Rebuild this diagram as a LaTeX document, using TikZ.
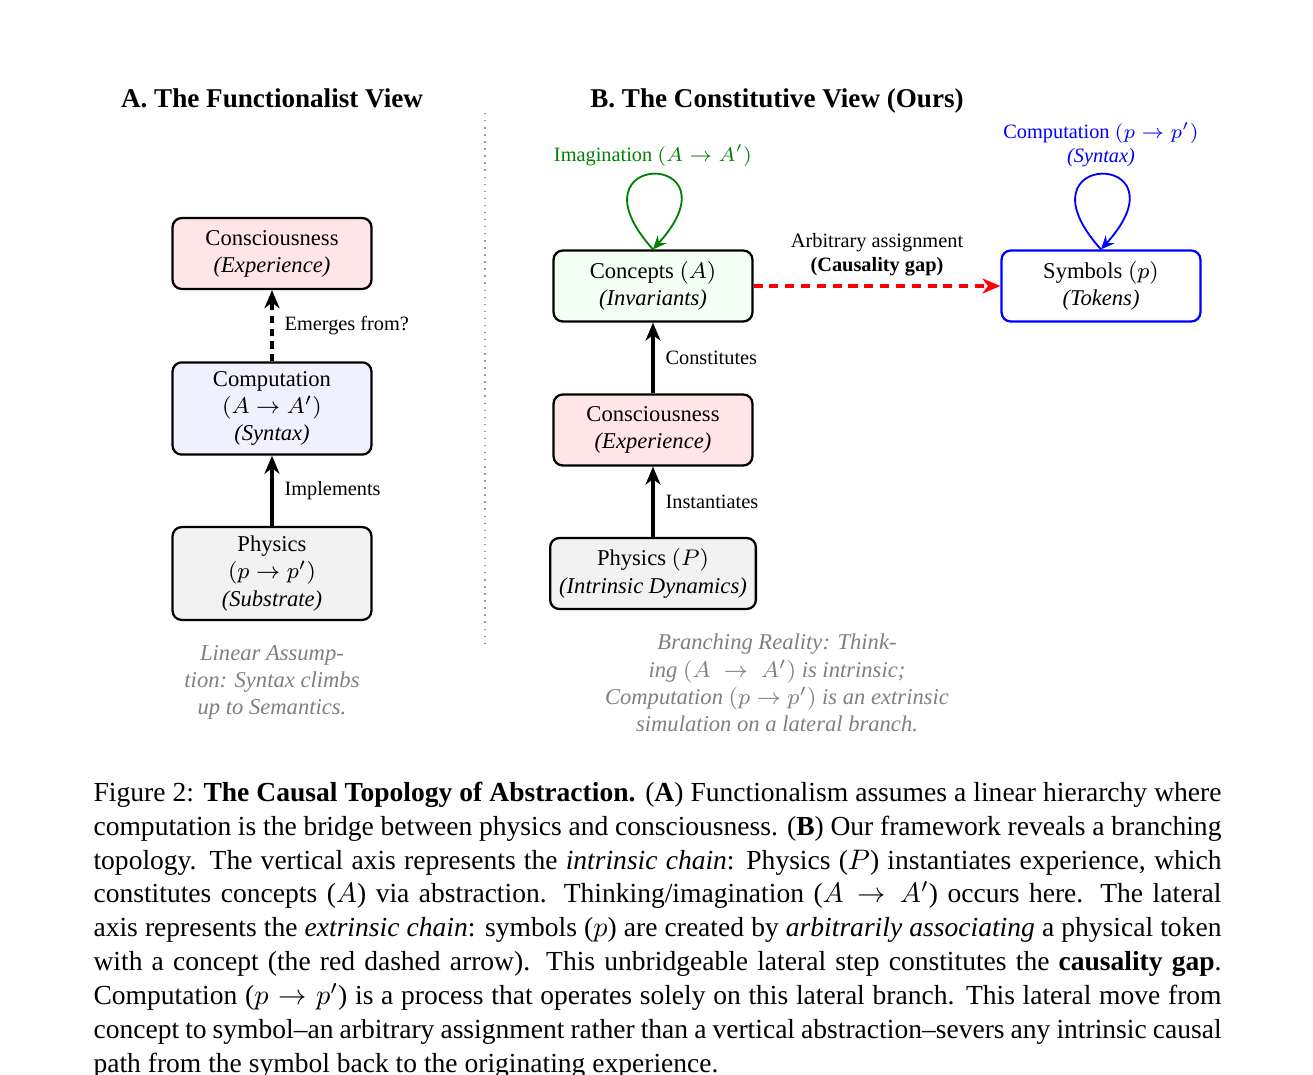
\documentclass[tikz,border=0pt]{standalone}
\usepackage[no-math]{fontspec}
\setmainfont{Liberation Serif}
\usetikzlibrary{arrows.meta}
\newcommand\dgmfont{\fontsize{8}{9.6}\selectfont}
\newcommand\lblfont{\fontsize{7.2}{8.3}\selectfont}
\newcommand\hdfont{\fontsize{9.6}{11.5}\selectfont\bfseries}
\newcommand\capfont{\fontsize{9.75}{12}\selectfont\hyphenpenalty=10000\tolerance=10000\emergencystretch=2em}
\begin{document}
\begin{tikzpicture}[x=0.354pt,y=0.354pt,
  box/.style={draw, line width=0.8pt, rounded corners=3.2pt, align=center, minimum width=70.4pt,
    minimum height=25.1pt, inner sep=3.2pt, font=\dgmfont},
  arr/.style={-{Stealth[length=6.4pt, width=5.3pt, inset=2pt]}, line width=1.1pt},
  lbl/.style={midway, right, inner sep=0pt, xshift=3.9pt, font=\lblfont},
  note/.style={anchor=north, align=center, font=\dgmfont\itshape, text=gray, inner sep=0pt},
  loopline/.style={line width=0.65pt, -{Stealth[length=4.8pt, width=4.2pt, inset=1.6pt]}}]
\path[use as bounding box, fill=white] (0,0) rectangle (1313,-1075);

% headings
\node[anchor=base, font=\hdfont] (hA) at (272,-108) {A. The Functionalist View};
\node[anchor=base, font=\hdfont] (hB) at (777,-108) {B. The Constitutive View (Ours)};

% separator
\coordinate (s1) at (485,-113);
\coordinate (s2) at (485,-647);
\draw[gray!80, dotted, line width=0.5pt] (s1) -- (s2);

% left panel
\node[box, fill=red!10] (lcons) at (272,-253.5) {Consciousness\\\textit{(Experience)}};
\node[box, fill=blue!6] (lcomp) at (272,-408.5) {Computation\\$(A\to A')$\\\textit{(Syntax)}};
\node[box, fill=gray!10] (lphys) at (272,-573.5) {Physics\\$(p\to p')$\\\textit{(Substrate)}};
\draw[arr, dash pattern=on 2.6pt off 1.9pt] (lcomp) -- node[lbl]{Emerges from?} (lcons);
\draw[arr] (lphys) -- node[lbl]{Implements} (lcomp);
\node[note] (nA) at (272,-641) {\strut Linear Assump-\\tion: Syntax climbs\\up to Semantics.};

% right panel
\node[box, fill=green!5] (rconc) at (653,-286) {Concepts $(A)$\\\textit{(Invariants)}};
\node[box, fill=red!10] (rcons) at (653,-430) {Consciousness\\\textit{(Experience)}};
\node[box, fill=gray!10, minimum width=72.2pt] (rphys) at (653,-573.5) {Physics $(P)$\\\textit{(Intrinsic Dynamics)}};
\node[box, draw=blue, fill=white] (rsym) at (1101,-286) {Symbols $(p)$\\\textit{(Tokens)}};
\draw[arr] (rcons) -- node[lbl]{Constitutes} (rconc);
\draw[arr] (rphys) -- node[lbl]{Instantiates} (rcons);
\draw[arr, red, dash pattern=on 3.2pt off 2.4pt] (rconc) -- node[midway, above, inner sep=0pt, yshift=3.1pt, align=center, font=\lblfont, text=black]{Arbitrary assignment\\\textbf{(Causality gap)}} (rsym);
\draw[loopline, green!50!black] (rconc.north) .. controls +(-90,100) and +(90,100) .. node[above, inner sep=0pt, yshift=2.5pt, font=\lblfont]{Imagination $(A\to A')$} (rconc.north);
\draw[loopline, blue] (rsym.north) .. controls +(-90,100) and +(90,100) .. node[above, inner sep=0pt, yshift=2.5pt, align=center, font=\lblfont]{Computation $(p\to p')$\\\textit{(Syntax)}} (rsym.north);
\node[note, font=\fontsize{8}{9.7}\selectfont\itshape] (nB) at (777,-630) {\strut Branching Reality: Think-\\ing $(A\;\to\;A')$ is intrinsic;\\Computation $(p\to p')$ is an extrinsic\\simulation on a lateral branch.};

% caption
\node[anchor=north west, inner sep=0pt, text width=399.3pt, align=justify, font=\capfont] (cap) at (93,-777) {\strut Figure 2: \textbf{The Causal Topology of Abstraction.} (\textbf{A}) Functionalism assumes a linear hierarchy where\linebreak
computation is the bridge between physics and consciousness. (\textbf{B}) Our framework reveals a branching\linebreak
topology. The vertical axis represents the \textit{intrinsic chain}: Physics ($P$) instantiates experience, which\linebreak
constitutes concepts ($A$) via abstraction. Thinking/imagination ($A\to A'$) occurs here. The lateral\linebreak
axis represents the \textit{extrinsic chain}: symbols ($p$) are created by \textit{arbitrarily associating} a physical token\linebreak
with a concept (the red dashed arrow). This unbridgeable lateral step constitutes the \textbf{causality gap}.\linebreak
Computation ($p\to p'$) is a process that operates solely on this lateral branch. This lateral move from\linebreak
concept to symbol--an arbitrary assignment rather than a vertical abstraction--severs any intrinsic causal\linebreak
path from the symbol back to the originating experience.};
\end{tikzpicture}
\end{document}
